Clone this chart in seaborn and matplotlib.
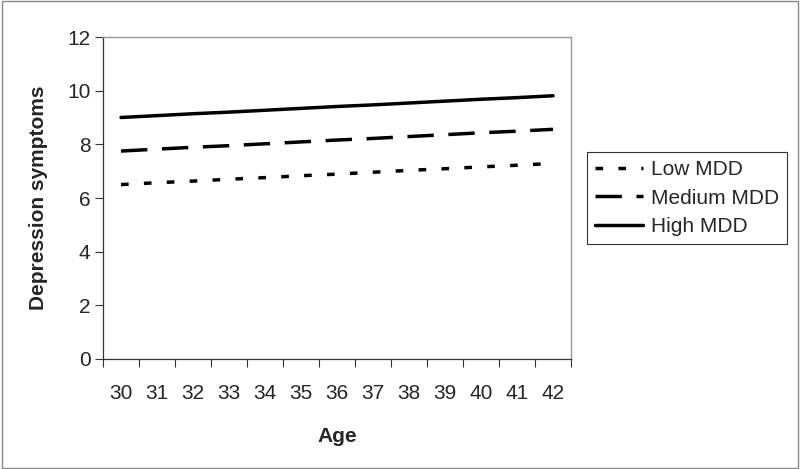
import matplotlib
matplotlib.use("Agg")
import matplotlib.pyplot as plt
import seaborn as sns
import pandas as pd
from matplotlib.patches import Rectangle
from matplotlib.ticker import FixedLocator

ages = [30, 31, 32, 33, 34, 35, 36, 37, 38, 39, 40, 41, 42]
low_mdd = [6.50, 6.57, 6.63, 6.70, 6.76, 6.83, 6.89, 6.96, 7.03, 7.09, 7.16, 7.22, 7.29]
medium_mdd = [7.75, 7.82, 7.89, 7.95, 8.02, 8.09, 8.16, 8.22, 8.29, 8.36, 8.43, 8.49, 8.56]
high_mdd = [9.00, 9.07, 9.14, 9.20, 9.27, 9.34, 9.41, 9.47, 9.54, 9.61, 9.68, 9.74, 9.81]
series_names = ["Low MDD", "Medium MDD", "High MDD"]
y_ticks = [0, 2, 4, 6, 8, 10, 12]

rows = []
for name, vals in zip(series_names, [low_mdd, medium_mdd, high_mdd]):
    for i, (a, v) in enumerate(zip(ages, vals)):
        rows.append({"pos": i, "Age": a, "value": v, "group": name})
df = pd.DataFrame(rows)

sns.set_style("white")
plt.rcParams["font.family"] = ["Liberation Sans", "DejaVu Sans"]

FS = 15
fig = plt.figure(figsize=(8, 4.69), dpi=100)
ax = fig.add_axes([103 / 800, 1 - 359 / 469, (571 - 103) / 800, (359 - 37) / 469])

sns.lineplot(data=df, x="pos", y="value", hue="group", style="group",
             hue_order=series_names, style_order=series_names,
             palette={n: "black" for n in series_names},
             dashes={"Low MDD": (2.2, 4.4), "Medium MDD": (7.6, 4.2), "High MDD": ""},
             linewidth=2.5, ax=ax)

ax.set_xlim(-0.5, len(ages) - 0.5)
ax.set_ylim(0, 12)
ax.set_yticks(y_ticks)
ax.set_yticklabels([str(t) for t in y_ticks], fontsize=FS)
ax.set_xticks(range(len(ages)))
ax.set_xticklabels([str(a) for a in ages], fontsize=FS)
ax.xaxis.set_minor_locator(FixedLocator([i - 0.5 for i in range(len(ages) + 1)]))
ax.tick_params(axis="x", which="major", length=0, pad=18)
ax.tick_params(axis="x", which="minor", length=6, width=0.8, color="#333333", direction="out", bottom=True)
ax.tick_params(axis="y", which="major", length=6, width=0.8, color="#333333", direction="out", left=True, pad=3)

ax.set_xlabel("Age", fontsize=FS, fontweight="bold", labelpad=17)
ax.set_ylabel("Depression symptoms", fontsize=FS, fontweight="bold", labelpad=14)

for s in ["left", "bottom"]:
    ax.spines[s].set_color("#333333")
    ax.spines[s].set_linewidth(0.9)
for s in ["top", "right"]:
    ax.spines[s].set_color("#999999")
    ax.spines[s].set_linewidth(1.0)
    ax.spines[s].set_visible(True)

handles, labels = ax.get_legend_handles_labels()
ax.legend(handles, labels, loc="upper left", bbox_to_anchor=(587 / 800, 1 - 152 / 469),
          bbox_transform=fig.transFigure, fontsize=FS, frameon=True, fancybox=False,
          edgecolor="#333333", framealpha=1, handlelength=2.3, handletextpad=0.35,
          borderpad=0.4, labelspacing=0.45, borderaxespad=0)
ax.get_legend().get_frame().set_linewidth(0.8)

fig.patches.append(Rectangle((0.002, 0.003), 0.996, 0.994, transform=fig.transFigure,
                             fill=False, edgecolor="#888888", linewidth=1.0))

fig.savefig("out.png", dpi=100)
